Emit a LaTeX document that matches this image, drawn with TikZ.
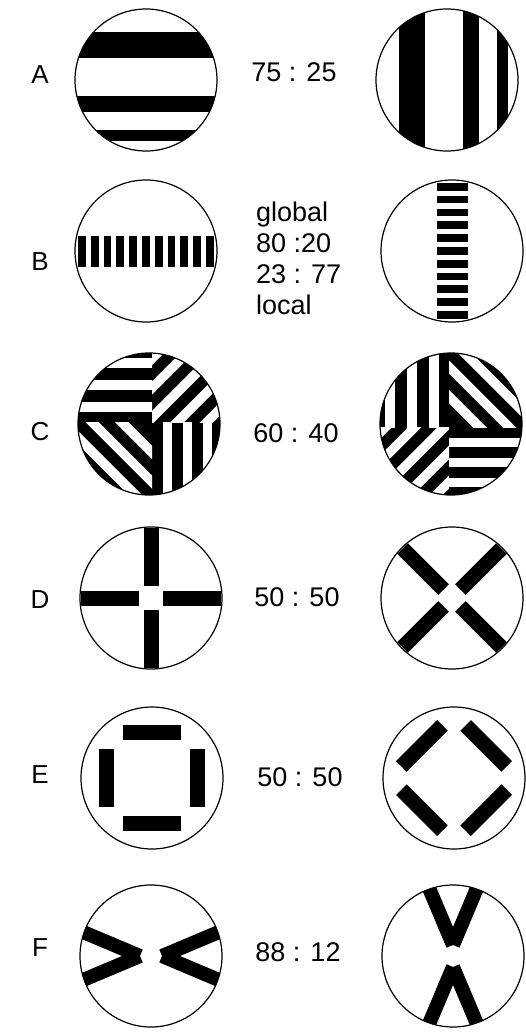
\documentclass[tikz,border=0pt]{standalone}
\usepackage{fontspec}
\setmainfont{Liberation Sans}
\usepackage{tikz}
\tikzset{
  ring/.style      ={circle,draw,line width=1.2pt,minimum size=142pt,inner sep=0pt},
  ratio/.style     ={font=\fontsize{27}{31}\selectfont,inner sep=0pt},
  letter/.style    ={font=\fontsize{26}{30}\selectfont,inner sep=0pt},
  wstripe/.style   ={white,line width=9.5pt},
  transposed/.style={cm={0,-1,-1,0,(0,0)}},
}
\newcommand\stripesA{\foreach \a/\b in {-48/-22,16/32,50/61}{\fill (-80,\a) rectangle (80,\b);}}
\newcommand\barsB{\foreach \i in {0,...,10}{\fill ({-68+12.8*\i},-15) rectangle ({-60.3+12.8*\i},16);}}
\newcommand\quadsC{%
  \fill (-80,-80) rectangle (80,80);
  \begin{scope}\clip (3,-2) rectangle (-80,-80);
    \foreach \c in {-61,-39,-17}{\draw[wstripe] (-80,\c) -- (10,\c);}\end{scope}
  \begin{scope}\clip (3,-2) rectangle (80,-80);
    \foreach \c in {-62.7,-33,-3.3,26.4,56}{\draw[wstripe] ({\c+100},-100) -- ({\c-100},100);}\end{scope}
  \begin{scope}\clip (3,-2) rectangle (-80,80);
    \foreach \c in {-84.7,-55,-25.3}{\draw[wstripe] ({\c-100},-100) -- ({\c+100},100);}\end{scope}
  \begin{scope}\clip (3,-2) rectangle (80,80);
    \foreach \c in {18.5,38.5,58.5}{\draw[wstripe] (\c,-10) -- (\c,80);}\end{scope}}
\newcommand\crossD{\foreach \r in {0,90,180,270}{\fill[rotate=\r] (12,-7.5) rectangle (70,7.5);}}
\newcommand\frameE{\foreach \r in {0,90,180,270}{\fill[rotate=\r] (-29,-53) rectangle (29,-38);}}
\newcommand\chevF{\foreach \s in {-1,1}{\draw[line width=14pt] ({11*\s},0) -- ({94*\s},-35) ({11*\s},0) -- ({94*\s},35);}}

\begin{document}
\begin{tikzpicture}[x=1pt,y=-1pt]
  \useasboundingbox (0,0) rectangle (525,1032);
  \foreach \n/\xl/\xr/\y/\yl/\pat/\rt in {
      A/146/447/80/75/\stripesA/0, B/146/452/251/262/\barsB/0,
      C/149/451/424/432/\quadsC/0, D/151/452/598/600/\crossD/45,
      E/152/454/778/775/\frameE/45, F/151/453/956/948/\chevF/0}{
    \begin{scope}[shift={(\xl,\y)}]\clip (0,0) circle (71pt); \pat\end{scope}
    \begin{scope}[shift={(\xr,\y)},transposed,rotate=\rt]\clip (0,0) circle (71pt); \pat\end{scope}
    \node[ring] (\n1) at (\xl,\y) {};
    \node[ring] (\n2) at (\xr,\y) {};
    \node[letter] (\n) at (40,\yl) {\n};
  }
  \node[ratio] (rA) at (294,72) {75 : 25};
  \node[ratio,align=left,anchor=west] (rB) at (256,258) {global\\80 :20\\23 : 77\\local};
  \node[ratio] (rC) at (296,433) {60 : 40};
  \node[ratio] (rD) at (297,597) {50 : 50};
  \node[ratio] (rE) at (300,777) {50 : 50};
  \node[ratio] (rF) at (298,952) {88 : 12};
\end{tikzpicture}
\end{document}
